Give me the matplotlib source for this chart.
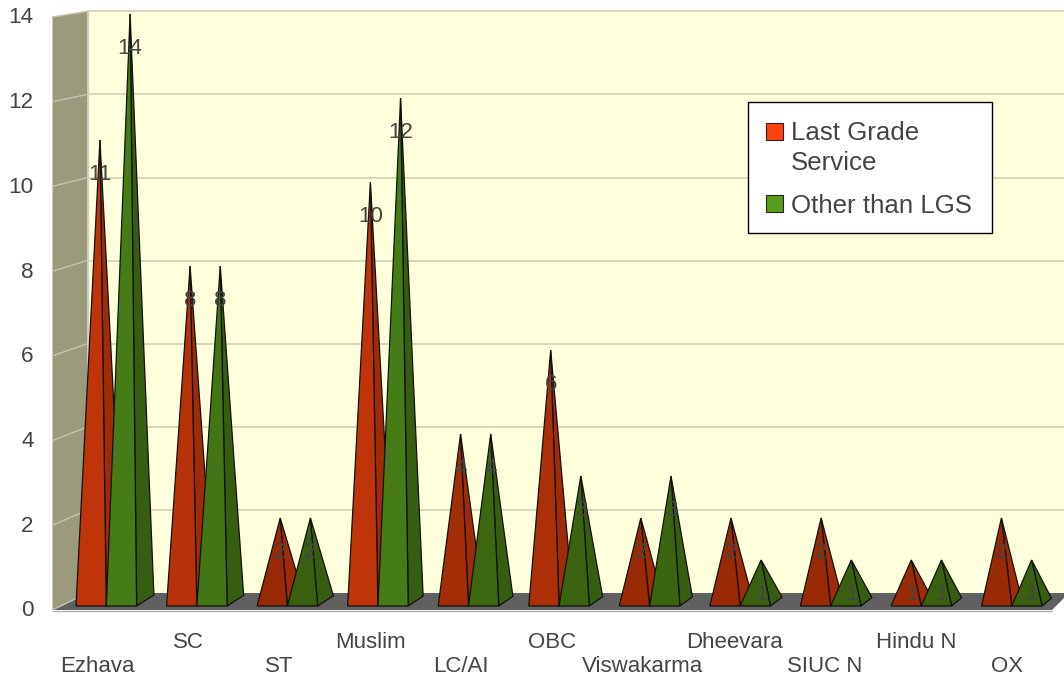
import matplotlib
matplotlib.use("Agg")
import matplotlib.pyplot as plt
from matplotlib.patches import Polygon, Rectangle

categories = ["Ezhava", "SC", "ST", "Muslim", "LC/AI", "OBC", "Viswakarma",
              "Dheevara", "SIUC N", "Hindu N", "OX"]
last_grade = [11, 8, 2, 10, 4, 6, 2, 2, 2, 1, 2]
other = [14, 8, 2, 12, 4, 3, 3, 1, 1, 1, 1]
y_ticks = [0, 2, 4, 6, 8, 10, 12, 14]

W, H = 1064, 679
STEP = 90.55     # px per category
UNIT = 42.0      # px per value unit
X0, Y0 = 76, 606 # px of first pyramid's front-left corner, value 0
TEXT = "#444444"

plt.rcParams["font.family"] = ["Liberation Sans", "DejaVu Sans"]


def dx(px):
    return px / STEP


def dy(px):
    return px / UNIT


def xp(px):
    return (px - X0) / STEP


def yp(px):
    return (Y0 - px) / UNIT


def mix(a, b, t):
    t = max(0, min(1, t))
    ca = matplotlib.colors.to_rgb(a)
    cb = matplotlib.colors.to_rgb(b)
    return tuple(p + (q - p) * t for p, q in zip(ca, cb))


def pyramid(ax, x, value, dark, light, side):
    # x is left front corner in category units, depth shrinks to the right (perspective)
    w = dx(30.3)
    depth_x = dx(17.3 - 0.8 * (x - 0.34))
    depth_y = dy(11 - 0.3 * x)
    # apex stands over the middle of the base, a little behind the front edge
    apex = (x + (w + depth_x) / 2, value + dy(4))
    front = [(x, 0), (x + w, 0), apex]
    right = [(x + w, 0), (x + w + depth_x, depth_y), apex]
    face = mix(dark, light, (value - 2) / 8)
    ax.add_patch(Polygon(right, closed=True, fc=side, ec="#111111", lw=0.9, joinstyle="miter", zorder=3))
    ax.add_patch(Polygon(front, closed=True, fc=face, ec="#111111", lw=0.9, joinstyle="miter", zorder=3))
    ax.text(apex[0], apex[1] - dy(34.5), str(value), ha="center", va="center",
            fontsize=16, color=TEXT, zorder=4)


fig = plt.figure(figsize=(W / 100, H / 100), dpi=100)
ax = fig.add_axes([0, 0, 1, 1])
ax.set_xlim(xp(0), xp(W))
ax.set_ylim(yp(H), yp(0))
ax.axis("off")

# back wall, side wall, floor
back_unit = 41.55
front_unit = 42.36
ax.add_patch(Polygon([(xp(87.5), yp(593)), (xp(87.5), yp(11.5)), (xp(W + 5), yp(11.5)), (xp(W + 5), yp(593))],
                     fc="#FFFFDC", ec="none", zorder=1))
ax.add_patch(Polygon([(xp(52.5), yp(610)), (xp(52.5), yp(16.7)), (xp(87.5), yp(11.5)), (xp(87.5), yp(593))],
                     fc="#9C9A7C", ec="none", zorder=1))
ax.add_patch(Polygon([(xp(52.5), yp(610)), (xp(87.5), yp(593)), (xp(1069), yp(593)), (xp(1052), yp(610))],
                     fc="#606060", ec="none", zorder=1.5))
ax.plot([xp(52.5), xp(1052)], [yp(610.5), yp(610.5)], color="#B0B0B0", lw=1, zorder=1.6)

for t in y_ticks:
    back_y = yp(593 - t * back_unit)
    front_y = yp(610 - t * front_unit)
    if t > 0:
        ax.plot([xp(87.5), xp(W + 5)], [back_y, back_y], color="#CFCFB8", lw=1.2, zorder=2)
    ax.plot([xp(52.5), xp(87.5)], [front_y, back_y], color="#C4C4B4", lw=1, zorder=2)
    ax.text(xp(33.5), front_y - dy(1), str(t), ha="right", va="center", fontsize=16.2, color=TEXT)
ax.plot([xp(87.5), xp(87.5)], [yp(593), yp(11.5)], color="#D0D0C0", lw=1, zorder=2)

# pyramids
for i in range(len(categories)):
    pyramid(ax, i, last_grade[i], "#9A2A05", "#C03409", "#A02C07")
    pyramid(ax, i + dx(30.3), other[i], "#38600F", "#467C16", "#355E10")

# staggered category labels
for i, name in enumerate(categories):
    row_y = yp(667) if i % 2 == 0 else yp(643)
    ax.text(dx(21) + i * 1.005, row_y, name, ha="center", va="center",
            fontsize=16, color=TEXT)

# legend
ax.add_patch(Rectangle((xp(748), yp(233)), dx(244), dy(131), fc="white", ec="black", lw=1, zorder=5))
ax.add_patch(Rectangle((xp(766), yp(140)), dx(17), dy(17), fc="#FF420E", ec="#222222", lw=0.8, zorder=6))
ax.add_patch(Rectangle((xp(766), yp(212)), dx(17), dy(17), fc="#579D1C", ec="#222222", lw=0.8, zorder=6))
ax.text(xp(791), yp(133), "Last Grade", ha="left", va="center", fontsize=18.6, color=TEXT, zorder=6)
ax.text(xp(791), yp(163.5), "Service", ha="left", va="center", fontsize=18.6, color=TEXT, zorder=6)
ax.text(xp(791), yp(206), "Other than LGS", ha="left", va="center", fontsize=18.6, color=TEXT, zorder=6)

fig.savefig("out.png", dpi=100)
